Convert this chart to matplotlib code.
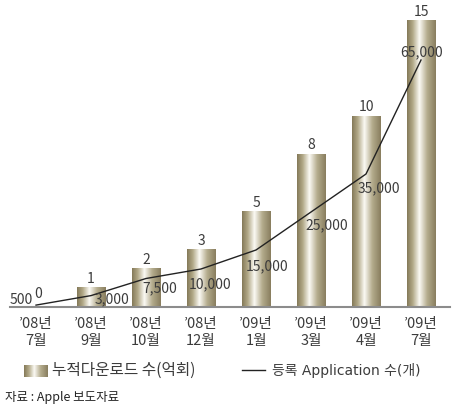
import numpy as np
import matplotlib
matplotlib.use("Agg")
import matplotlib.pyplot as plt
from matplotlib.colors import LinearSegmentedColormap
from matplotlib.lines import Line2D

plt.rcParams['font.family'] = ['Noto Sans CJK KR', 'DejaVu Sans']

periods = ["’08년\n7월", "’08년\n9월", "’08년\n10월", "’08년\n12월",
           "’09년\n1월", "’09년\n3월", "’09년\n4월", "’09년\n7월"]
downloads = [0, 1, 2, 3, 5, 8, 10, 15]          # 누적다운로드 수(억회)
apps = [500, 3000, 7500, 10000, 15000, 25000, 35000, 65000]  # 등록 Application 수(개)

# where the app labels sit relative to their point, in pixels (right, down)
app_label_offsets = [(-15, -5), (21, 4), (14, 10), (9, 15),
                     (11, 16), (16, 13), (13, 14), (1, -8)]

text_color = "#3c3c3c"
bar_cmap = LinearSegmentedColormap.from_list(
    "cyl", [(0.0, "#847958"), (0.2, "#b2a988"), (0.43, "#fbfaf4"),
            (0.7, "#b4ac8d"), (1.0, "#887d5e")])
grad = np.linspace(0, 1, 256).reshape(1, -1)

fig = plt.figure(figsize=(4.77, 4.11), dpi=100)
ax = fig.add_axes([10 / 477, 104 / 411, 440 / 477, 302 / 411])

x = np.arange(len(periods))
bars = ax.bar(x, downloads, width=0.51, color="none", edgecolor="none")
for b in bars:
    if b.get_height() <= 0:
        continue
    ax.imshow(grad, cmap=bar_cmap, aspect="auto", zorder=1,
              extent=[b.get_x(), b.get_x() + b.get_width(), 0, b.get_height()])

for xi, v in zip(x, downloads):
    ax.annotate(str(v), (xi, v), xytext=(2 if v == 0 else 0, 9 if v == 0 else 5),
                textcoords="offset pixels", ha="center", va="baseline",
                fontsize=10, color=text_color)

ax.set_xlim(-0.473, 7.527)
ax.set_ylim(0, 302 / 19.07)
ax.set_xticks(x, periods)
ax.set_yticks([])
ax.tick_params(axis="x", length=0, pad=7, labelsize=10.5, labelcolor=text_color)
for lab in ax.get_xticklabels():
    lab.set_linespacing(1.3)
for s in ["top", "left", "right"]:
    ax.spines[s].set_visible(False)
ax.spines["bottom"].set_color("#8c8c8c")
ax.spines["bottom"].set_linewidth(1.5)

ax2 = ax.twinx()
ax2.plot(x, apps, color="#222222", lw=1, zorder=3)
ax2.set_ylim(0, 302 / 3.8 * 1000)
ax2.set_yticks([])
for s in ax2.spines.values():
    s.set_visible(False)
for xi, v, (dx, dy) in zip(x, apps, app_label_offsets):
    ax2.annotate(f"{v:,}", (xi, v), xytext=(dx, -dy), textcoords="offset pixels",
                 ha="center", va="center", fontsize=10, color=text_color)

# legend
lax = fig.add_axes([24 / 477, 34 / 411, 24 / 477, 12 / 411])
lax.imshow(grad, cmap=bar_cmap, aspect="auto")
lax.axis("off")
ly = 1 - 370 / 411
fig.text(52 / 477, ly, "누적다운로드 수(억회)", va="center", fontsize=11.3,
         color=text_color)
fig.add_artist(Line2D([242 / 477, 265 / 477], [ly, ly], color="#222222", lw=1))
fig.text(272 / 477, ly, "등록 Application 수(개)", va="center", fontsize=10,
         color=text_color, family=["DejaVu Sans", "Noto Sans CJK KR"])

fig.text(5 / 477, 1 - 397 / 411, "자료 : Apple 보도자료", va="center", fontsize=9,
         color="#222222")

fig.savefig("out.png", dpi=100)
